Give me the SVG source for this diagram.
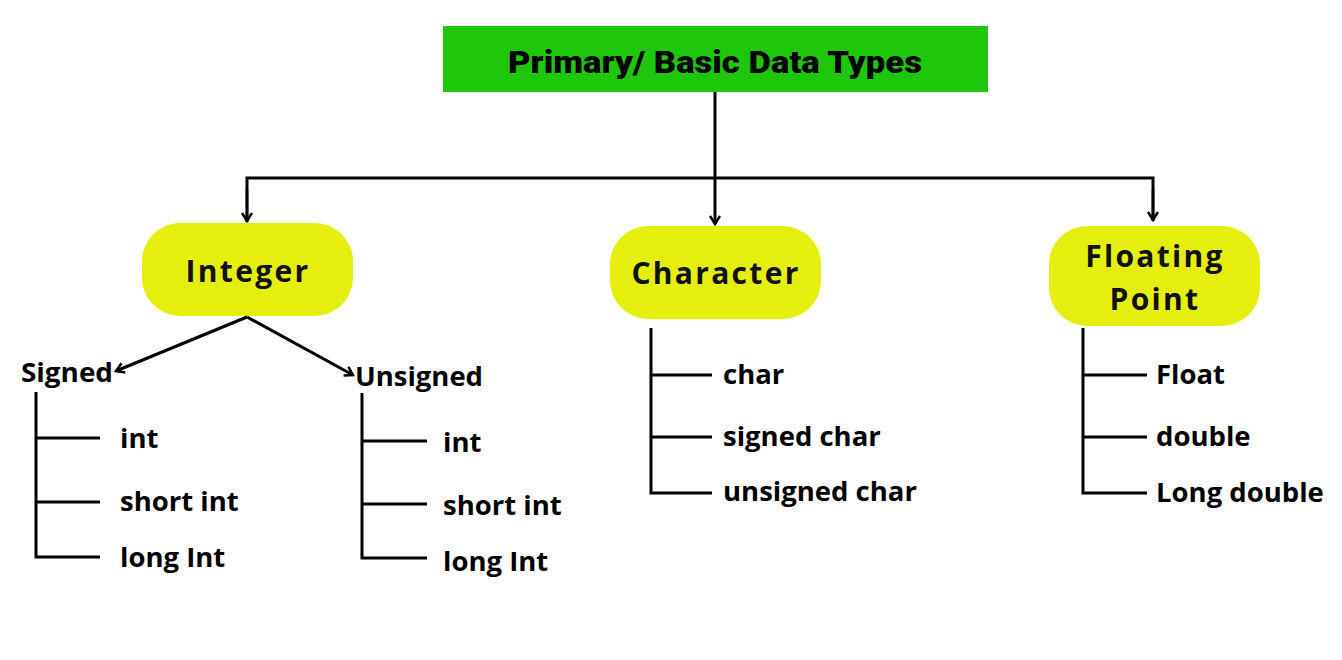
<svg xmlns="http://www.w3.org/2000/svg" width="1342" height="660" viewBox="0 0 1342 660">
<defs>
<marker id="arr" markerWidth="14" markerHeight="14" refX="10" refY="6" orient="auto" markerUnits="userSpaceOnUse">
<path d="M2,1 L10,6 L2,11" fill="none" stroke="#000" stroke-width="2.5" stroke-linejoin="miter"/>
</marker>
</defs>
<style>
.ln{stroke:#000;stroke-width:3;fill:none}
.hd{font-family:"Open Sans","Liberation Sans",sans-serif;font-weight:bold;font-size:30px;letter-spacing:2.3px;fill:#111}
.lb{font-family:"Open Sans","Liberation Sans",sans-serif;font-weight:bold;font-size:27.5px;fill:#000}
.yl{fill:#E5EF0E}
</style>
<rect width="1342" height="660" fill="#fff"/>
<g id="root">
<rect x="443" y="26" width="545" height="66" fill="#1EC70C"/>
<text x="715" y="73" text-anchor="middle" font-family="Roboto,'Liberation Sans',sans-serif" font-weight="900" font-size="31" textLength="414" lengthAdjust="spacingAndGlyphs" fill="#000">Primary/ Basic Data Types</text>
</g>
<g id="integer">
<rect class="yl" x="142" y="223" width="211" height="93" rx="38"/>
<text class="hd" x="248" y="282" text-anchor="middle">Integer</text>
</g>
<g id="character">
<rect class="yl" x="610" y="226" width="211" height="93" rx="38"/>
<text class="hd" x="716" y="284" text-anchor="middle">Character</text>
</g>
<g id="floating">
<rect class="yl" x="1049" y="226" width="211" height="100" rx="38"/>
<text class="hd" x="1155" y="267" text-anchor="middle">Floating</text>
<text class="hd" x="1155" y="310" text-anchor="middle">Point</text>
</g>
<g id="signed"><text class="lb" x="21" y="382" textLength="92" lengthAdjust="spacingAndGlyphs">Signed</text></g>
<g id="unsigned"><text class="lb" x="355" y="386" textLength="128" lengthAdjust="spacingAndGlyphs">Unsigned</text></g>
<g id="signed-items">
<text class="lb" x="120" y="448">int</text>
<text class="lb" x="120" y="511">short int</text>
<text class="lb" x="120" y="567">long Int</text>
</g>
<g id="unsigned-items">
<text class="lb" x="443" y="452">int</text>
<text class="lb" x="443" y="515">short int</text>
<text class="lb" x="443" y="571">long Int</text>
</g>
<g id="char-items">
<text class="lb" x="723" y="384">char</text>
<text class="lb" x="723" y="446">signed char</text>
<text class="lb" x="723" y="501">unsigned char</text>
</g>
<g id="float-items">
<text class="lb" x="1156" y="384">Float</text>
<text class="lb" x="1156" y="446">double</text>
<text class="lb" x="1156" y="502">Long double</text>
</g>
<g id="connectors">
<line class="ln" x1="715" y1="92" x2="715" y2="224" marker-end="url(#arr)"/>
<path class="ln" d="M247,222 V178 H1153 V221" stroke-width="2.5"/>
<line x1="247" y1="190" x2="247" y2="221" stroke="#000" stroke-width="2.5" marker-end="url(#arr)"/>
<line x1="1153" y1="190" x2="1153" y2="220" stroke="#000" stroke-width="2.5" marker-end="url(#arr)"/>
<line class="ln" x1="247" y1="317" x2="116" y2="371" marker-end="url(#arr)"/>
<line class="ln" x1="247" y1="317" x2="353" y2="375" marker-end="url(#arr)"/>
<path class="ln" d="M36,392 V557 H100 M36,438 H100 M36,502 H100"/>
<path class="ln" d="M362,393 V558 H427 M362,441 H427 M362,504 H427"/>
<path class="ln" d="M651,328 V493 H712 M651,375 H712 M651,437 H712"/>
<path class="ln" d="M1083,328 V493 H1147 M1083,375 H1147 M1083,437 H1147"/>
</g>
</svg>
